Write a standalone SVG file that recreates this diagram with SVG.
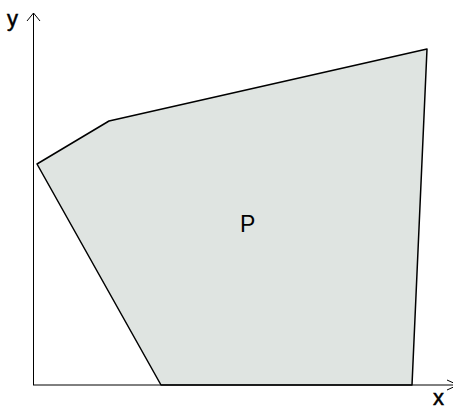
<svg xmlns="http://www.w3.org/2000/svg" width="453" height="410" viewBox="0 0 453 410">
<style>
.lbl{font-family:"Liberation Sans",Arial,sans-serif;fill:#000}
.axis{stroke:#000;stroke-width:1;fill:none}
</style>
<rect width="453" height="410" fill="#fff"/>
<g id="region-P">
<polygon points="37,164 109,121 427,49 412,385 161,385" fill="#dfe4e1" stroke="#000" stroke-width="1.5" stroke-linejoin="round"/>
<text class="lbl" x="240" y="232" font-size="23">P</text>
</g>
<g id="axes">
<line class="axis" x1="33.5" y1="385" x2="33.5" y2="13" stroke="#222"/>
<polyline class="axis" points="27,21 33.5,13 40,21"/>
<line class="axis" x1="33" y1="385" x2="458" y2="385" stroke="#888" stroke-width="1.5"/>
<polyline class="axis" points="447,380 458,385 447,390" stroke="#888"/>
<text class="lbl" x="7" y="26" font-size="22" stroke="#000" stroke-width="0.5">y</text>
<text class="lbl" x="433" y="405" font-size="22" stroke="#000" stroke-width="0.5">x</text>
</g>
</svg>
